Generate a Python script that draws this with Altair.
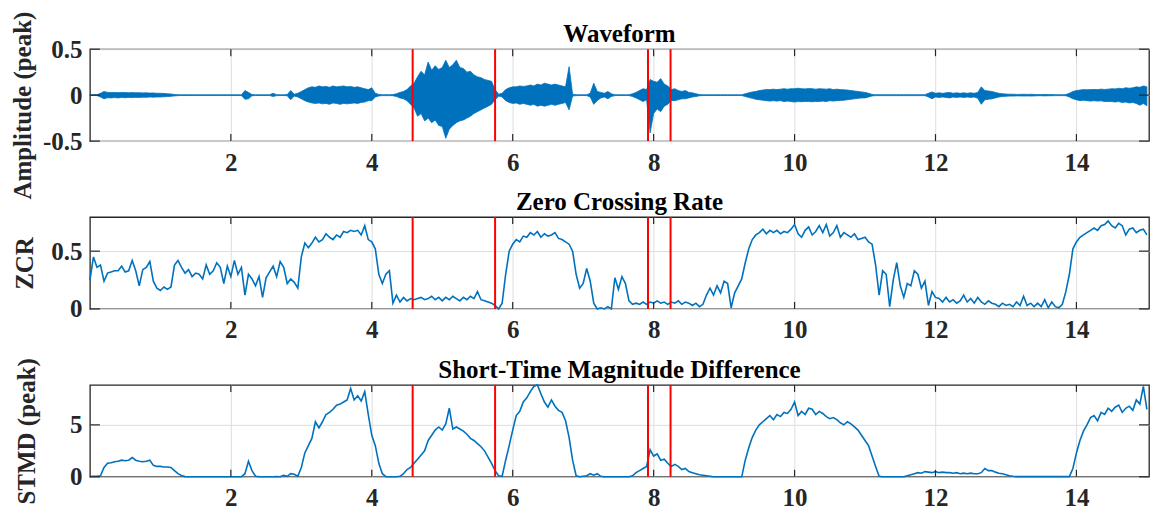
import altair as alt
import pandas as pd

# ---------------- data ----------------
N = 301
times = [round(i * 0.05, 2) for i in range(N)]  # sample grid, seconds

wave_up = [
    0.004, 0.004, 0.004, 0.02, 0.04, 0.03, 0.028, 0.03, 0.027, 0.03, 0.028, 0.026, 0.028, 0.025, 0.027, 0.024, 0.025, 0.022, 0.024, 0.02,
    0.02, 0.018, 0.015, 0.012, 0.008, 0.005, 0.004, 0.004, 0.004, 0.004, 0.004, 0.004, 0.004, 0.004, 0.004, 0.004, 0.004, 0.004, 0.004, 0.004,
    0.004, 0.004, 0.004, 0.004, 0.05, 0.03, 0.006, 0.004, 0.004, 0.004, 0.004, 0.004, 0.02, 0.005, 0.004, 0.004, 0.006, 0.05, 0.01, 0.02,
    0.04, 0.06, 0.08, 0.09, 0.085, 0.1, 0.09, 0.095, 0.085, 0.1, 0.09, 0.095, 0.1, 0.09, 0.095, 0.085, 0.09, 0.08, 0.07, 0.06,
    0.08, 0.02, 0.008, 0.005, 0.005, 0.005, 0.006, 0.015, 0.03, 0.04, 0.06, 0.1, 0.13, 0.2, 0.26, 0.22, 0.36, 0.27, 0.32, 0.28,
    0.3, 0.38, 0.3, 0.33, 0.38, 0.3, 0.29, 0.25, 0.26, 0.22, 0.2, 0.19, 0.17, 0.16, 0.15, 0.06, 0.01, 0.02, 0.06, 0.08,
    0.09, 0.09, 0.1, 0.095, 0.1, 0.11, 0.1, 0.12, 0.11, 0.13, 0.12, 0.11, 0.12, 0.11, 0.1, 0.09, 0.31, 0.01, 0.005, 0.004,
    0.004, 0.004, 0.02, 0.13, 0.04, 0.03, 0.02, 0.04, 0.015, 0.005, 0.004, 0.004, 0.004, 0.004, 0.015, 0.03, 0.05, 0.07, 0.06, 0.17,
    0.15, 0.14, 0.18, 0.12, 0.1, 0.06, 0.07, 0.05, 0.04, 0.05, 0.03, 0.025, 0.015, 0.006, 0.004, 0.004, 0.004, 0.004, 0.004, 0.004,
    0.004, 0.004, 0.004, 0.004, 0.004, 0.004, 0.015, 0.025, 0.035, 0.04, 0.05, 0.055, 0.06, 0.06, 0.065, 0.06, 0.065, 0.07, 0.065, 0.07,
    0.07, 0.075, 0.07, 0.068, 0.072, 0.07, 0.065, 0.07, 0.068, 0.065, 0.07, 0.06, 0.065, 0.06, 0.058, 0.055, 0.05, 0.045, 0.04, 0.035,
    0.03, 0.02, 0.008, 0.005, 0.005, 0.005, 0.005, 0.005, 0.005, 0.005, 0.005, 0.005, 0.005, 0.005, 0.005, 0.005, 0.005, 0.005, 0.02, 0.035,
    0.02, 0.025, 0.02, 0.025, 0.03, 0.02, 0.025, 0.02, 0.025, 0.02, 0.025, 0.02, 0.03, 0.09, 0.05, 0.045, 0.04, 0.03, 0.02, 0.015,
    0.012, 0.01, 0.01, 0.008, 0.008, 0.01, 0.008, 0.01, 0.008, 0.006, 0.006, 0.008, 0.006, 0.006, 0.005, 0.005, 0.005, 0.006, 0.02, 0.04,
    0.05, 0.055, 0.06, 0.058, 0.06, 0.062, 0.06, 0.065, 0.062, 0.065, 0.07, 0.068, 0.075, 0.07, 0.08, 0.075, 0.08, 0.09, 0.085, 0.1,
    0.09,
]

wave_lo = [
    -0.004, -0.004, -0.004, -0.02, -0.04, -0.028, -0.03, -0.027, -0.03, -0.026, -0.028, -0.025, -0.027, -0.024, -0.026, -0.022, -0.024, -0.02, -0.022, -0.02,
    -0.02, -0.018, -0.015, -0.012, -0.008, -0.005, -0.004, -0.004, -0.004, -0.004, -0.004, -0.004, -0.004, -0.004, -0.004, -0.004, -0.004, -0.004, -0.004, -0.004,
    -0.004, -0.004, -0.004, -0.004, -0.045, -0.04, -0.006, -0.004, -0.004, -0.004, -0.004, -0.004, -0.015, -0.005, -0.004, -0.004, -0.006, -0.05, -0.01, -0.02,
    -0.04, -0.06, -0.075, -0.085, -0.09, -0.085, -0.095, -0.09, -0.1, -0.085, -0.09, -0.1, -0.09, -0.095, -0.09, -0.085, -0.09, -0.08, -0.075, -0.06,
    -0.06, -0.02, -0.008, -0.005, -0.005, -0.005, -0.006, -0.015, -0.03, -0.04, -0.06, -0.1, -0.14, -0.23, -0.2, -0.28, -0.25, -0.3, -0.27, -0.33,
    -0.34, -0.47, -0.37, -0.33, -0.3, -0.28, -0.27, -0.25, -0.23, -0.2, -0.18, -0.16, -0.14, -0.12, -0.1, -0.05, -0.01, -0.02, -0.06, -0.08,
    -0.09, -0.085, -0.1, -0.09, -0.1, -0.11, -0.1, -0.12, -0.11, -0.12, -0.11, -0.1, -0.11, -0.1, -0.09, -0.08, -0.16, -0.01, -0.005, -0.004,
    -0.004, -0.004, -0.02, -0.1, -0.06, -0.03, -0.02, -0.04, -0.015, -0.005, -0.004, -0.004, -0.004, -0.004, -0.015, -0.03, -0.05, -0.07, -0.05, -0.41,
    -0.2, -0.15, -0.18, -0.12, -0.1, -0.06, -0.06, -0.05, -0.04, -0.04, -0.03, -0.02, -0.015, -0.006, -0.004, -0.004, -0.004, -0.004, -0.004, -0.004,
    -0.004, -0.004, -0.004, -0.004, -0.004, -0.004, -0.015, -0.025, -0.035, -0.045, -0.05, -0.055, -0.06, -0.065, -0.06, -0.065, -0.06, -0.07, -0.065, -0.07,
    -0.075, -0.07, -0.072, -0.068, -0.07, -0.072, -0.068, -0.07, -0.065, -0.07, -0.06, -0.065, -0.06, -0.058, -0.055, -0.05, -0.045, -0.04, -0.035, -0.03,
    -0.03, -0.02, -0.008, -0.005, -0.005, -0.005, -0.005, -0.005, -0.005, -0.005, -0.005, -0.005, -0.005, -0.005, -0.005, -0.005, -0.005, -0.005, -0.02, -0.04,
    -0.02, -0.025, -0.02, -0.025, -0.03, -0.02, -0.025, -0.02, -0.025, -0.02, -0.025, -0.02, -0.035, -0.1, -0.05, -0.045, -0.04, -0.03, -0.02, -0.015,
    -0.012, -0.01, -0.01, -0.008, -0.008, -0.01, -0.008, -0.01, -0.008, -0.006, -0.006, -0.008, -0.006, -0.006, -0.005, -0.005, -0.005, -0.006, -0.02, -0.04,
    -0.05, -0.06, -0.055, -0.06, -0.065, -0.06, -0.065, -0.062, -0.07, -0.068, -0.07, -0.075, -0.07, -0.08, -0.075, -0.085, -0.08, -0.09, -0.11, -0.09,
    -0.115,
]

zcr = [
    0.25, 0.45, 0.36, 0.38, 0.24, 0.31, 0.32, 0.33, 0.33, 0.37, 0.32, 0.33, 0.42, 0.33, 0.20, 0.34, 0.36, 0.41, 0.24, 0.18,
    0.16, 0.19, 0.17, 0.19, 0.38, 0.42, 0.36, 0.31, 0.34, 0.28, 0.31, 0.30, 0.26, 0.38, 0.30, 0.33, 0.40, 0.36, 0.22, 0.37,
    0.28, 0.42, 0.30, 0.36, 0.12, 0.30, 0.26, 0.20, 0.28, 0.10, 0.27, 0.32, 0.37, 0.28, 0.41, 0.36, 0.22, 0.26, 0.23, 0.18,
    0.45, 0.57, 0.53, 0.57, 0.62, 0.58, 0.60, 0.65, 0.62, 0.60, 0.64, 0.62, 0.67, 0.66, 0.68, 0.67, 0.68, 0.64, 0.72, 0.60,
    0.58, 0.52, 0.30, 0.22, 0.30, 0.33, 0.05, 0.12, 0.06, 0.10, 0.07, 0.09, 0.08, 0.09, 0.10, 0.08, 0.09, 0.11, 0.08, 0.10,
    0.07, 0.10, 0.08, 0.11, 0.09, 0.07, 0.10, 0.08, 0.11, 0.09, 0.15, 0.08, 0.07, 0.06, 0.05, 0.03, 0.00, 0.05, 0.30, 0.50,
    0.56, 0.60, 0.58, 0.63, 0.62, 0.66, 0.64, 0.67, 0.62, 0.65, 0.63, 0.64, 0.66, 0.61, 0.60, 0.58, 0.56, 0.50, 0.30, 0.18,
    0.22, 0.35, 0.24, 0.05, 0.00, 0.01, 0.00, 0.02, 0.00, 0.27, 0.17, 0.28, 0.22, 0.07, 0.04, 0.05, 0.04, 0.06, 0.04, 0.06,
    0.05, 0.07, 0.05, 0.06, 0.04, 0.06, 0.05, 0.07, 0.04, 0.06, 0.05, 0.03, 0.05, 0.02, 0.04, 0.12, 0.18, 0.12, 0.20, 0.14,
    0.24, 0.22, 0.01, 0.14, 0.20, 0.26, 0.40, 0.52, 0.60, 0.64, 0.66, 0.69, 0.65, 0.68, 0.66, 0.68, 0.65, 0.67, 0.66, 0.69,
    0.73, 0.65, 0.62, 0.68, 0.71, 0.64, 0.67, 0.72, 0.66, 0.73, 0.63, 0.66, 0.72, 0.62, 0.66, 0.64, 0.62, 0.65, 0.60, 0.61,
    0.62, 0.58, 0.56, 0.38, 0.12, 0.33, 0.30, 0.02, 0.25, 0.40, 0.20, 0.10, 0.22, 0.20, 0.33, 0.30, 0.18, 0.24, 0.03, 0.15,
    0.10, 0.09, 0.06, 0.10, 0.06, 0.08, 0.05, 0.07, 0.12, 0.06, 0.09, 0.05, 0.10, 0.06, 0.04, 0.07, 0.05, 0.04, 0.02, 0.05,
    0.03, 0.04, 0.02, 0.06, 0.03, 0.11, 0.03, 0.05, 0.02, 0.05, 0.02, 0.08, 0.01, 0.06, 0.02, 0.01, 0.04, 0.15, 0.30, 0.52,
    0.58, 0.62, 0.64, 0.66, 0.68, 0.70, 0.68, 0.72, 0.73, 0.76, 0.72, 0.70, 0.74, 0.72, 0.64, 0.69, 0.70, 0.66, 0.68, 0.69,
    0.64,
]

stmd = [
    0.05, 0.05, 0.05, 0.10, 0.90, 1.30, 1.35, 1.45, 1.50, 1.60, 1.55, 1.60, 1.85, 1.60, 1.50, 1.45, 1.50, 1.60, 1.10, 1.00,
    1.00, 0.95, 0.95, 0.90, 0.60, 0.30, 0.12, 0.02, 0.00, 0.00, 0.00, 0.00, 0.00, 0.00, 0.00, 0.00, 0.00, 0.00, 0.00, 0.00,
    0.00, 0.00, 0.00, 0.00, 0.30, 1.50, 0.60, 0.05, 0.02, 0.00, 0.00, 0.00, 0.00, 0.02, 0.00, 0.15, 0.05, 0.30, 0.25, 0.05,
    0.90, 2.30, 3.00, 3.70, 5.30, 4.70, 5.30, 6.00, 6.20, 6.50, 6.90, 7.00, 7.20, 7.40, 8.50, 7.40, 7.80, 7.30, 8.20, 6.00,
    4.00, 3.00, 1.30, 0.30, 0.02, 0.00, 0.00, 0.00, 0.05, 0.30, 0.70, 0.90, 1.30, 1.70, 2.10, 2.50, 3.50, 4.00, 4.50, 4.80,
    4.50, 5.10, 6.60, 4.60, 4.80, 4.60, 4.40, 4.10, 3.70, 3.50, 3.20, 2.90, 2.50, 1.90, 1.30, 0.60, 0.10, 0.05, 1.60, 3.00,
    4.50, 5.90, 6.30, 7.20, 7.60, 8.20, 8.70, 8.85, 8.00, 7.20, 6.70, 7.40, 6.80, 6.40, 6.20, 5.40, 3.80, 1.60, 0.10, 0.00,
    0.05, 0.10, 0.30, 0.15, 0.30, 0.05, 0.00, 0.00, 0.00, 0.00, 0.00, 0.00, 0.00, 0.00, 0.10, 0.40, 0.60, 0.80, 1.00, 2.60,
    2.00, 2.20, 1.60, 1.70, 1.30, 1.00, 1.20, 1.00, 0.70, 0.80, 0.50, 0.40, 0.30, 0.20, 0.15, 0.10, 0.05, 0.00, 0.00, 0.00,
    0.00, 0.00, 0.00, 0.00, 0.00, 0.00, 1.60, 2.80, 3.80, 4.50, 5.00, 5.30, 5.60, 5.90, 5.50, 6.00, 5.80, 6.20, 6.10, 6.50,
    7.20, 5.90, 6.30, 6.00, 6.60, 6.50, 6.00, 6.30, 6.10, 5.80, 5.60, 5.70, 5.50, 5.20, 5.00, 5.30, 5.10, 4.80, 4.50, 4.00,
    3.50, 3.00, 2.00, 1.00, 0.05, 0.00, 0.00, 0.00, 0.00, 0.00, 0.00, 0.00, 0.10, 0.20, 0.30, 0.40, 0.35, 0.50, 0.45, 0.40,
    0.50, 0.40, 0.45, 0.40, 0.40, 0.35, 0.40, 0.30, 0.35, 0.30, 0.35, 0.30, 0.30, 0.40, 0.80, 0.60, 0.60, 0.45, 0.35, 0.30,
    0.20, 0.10, 0.05, 0.02, 0.02, 0.02, 0.02, 0.02, 0.02, 0.02, 0.02, 0.02, 0.02, 0.02, 0.02, 0.02, 0.02, 0.02, 0.02, 0.80,
    2.30, 3.50, 4.40, 5.00, 5.70, 5.90, 5.40, 6.20, 6.00, 6.60, 6.30, 6.70, 6.90, 6.20, 6.60, 6.80, 6.40, 7.40, 7.00, 8.70,
    6.50,
]

boundaries = [4.58, 5.75, 7.92, 8.24]
x_ticks = [2, 4, 6, 8, 10, 12, 14]
wave_ticks = [-0.5, 0, 0.5]
zcr_ticks = [0, 0.5]
stmd_ticks = [0, 5]

titles = ["Waveform", "Zero Crossing Rate", "Short-Time Magnitude Difference"]
ylabels = ["Amplitude (peak)", "ZCR", "STMD (peak)"]

# ---------------- styling ----------------
W, H = 1060, 92
FONT = "'Liberation Serif', 'Times New Roman', 'DejaVu Serif', serif"
FS = 25
BLUE = "#0072BD"
RED = "#FF0000"
AX = "#262626"

wave_df = pd.DataFrame({"t": times, "lo": wave_lo, "up": wave_up})
zcr_df = pd.DataFrame({"t": times, "v": zcr})
stmd_df = pd.DataFrame({"t": times, "v": stmd})
bound_df = pd.DataFrame({"t": boundaries})
xt_df = pd.DataFrame({"t": x_ticks})

x_scale = alt.Scale(domain=[0, 15.03], nice=False, zero=False)
x_axis = alt.Axis(values=x_ticks, title=None, grid=True, labelExpr="'' + datum.value",
                  labelPadding=9, labelFlush=False)


def xenc():
    return alt.X("t:Q", scale=x_scale, axis=x_axis)


def panel(series_chart_fn, field, ydom, yticks, ytitle, ttl, tpad, ty=None):
    axis_kw = dict(values=yticks, title=ytitle, grid=True, labelExpr="'' + datum.value",
                   labelPadding=8, titlePadding=tpad, labelFlush=False)
    if ty is not None:
        axis_kw["titleY"] = ty
    y_axis = alt.Axis(**axis_kw)
    y_scale = alt.Scale(domain=ydom, nice=False, zero=False)

    def yenc():
        return alt.Y(f"{field}:Q", scale=y_scale, axis=y_axis)

    yt_df = pd.DataFrame({field: yticks})
    series = series_chart_fn(xenc(), yenc())
    red = alt.Chart(bound_df).mark_rule(color=RED, strokeWidth=2).encode(x=xenc())
    xt_top = alt.Chart(xt_df).mark_rule(color=AX, strokeWidth=1.2).encode(
        x=xenc(), y=alt.value(0), y2=alt.value(7))
    xt_bot = alt.Chart(xt_df).mark_rule(color=AX, strokeWidth=1.2).encode(
        x=xenc(), y=alt.value(H - 7), y2=alt.value(H))
    yt_l = alt.Chart(yt_df).mark_rule(color=AX, strokeWidth=1.2).encode(
        y=yenc(), x=alt.value(0), x2=alt.value(10))
    yt_r = alt.Chart(yt_df).mark_rule(color=AX, strokeWidth=1.2).encode(
        y=yenc(), x=alt.value(W - 10), x2=alt.value(W))
    ttl_layer = alt.Chart(pd.DataFrame({"title": [ttl]})).mark_text(
        font=FONT, fontSize=FS, fontWeight="bold", color="#000000",
        align="center", baseline="alphabetic",
    ).encode(text="title:N", x=alt.value(W / 2), y=alt.value(-7))
    return alt.layer(series, red, xt_top, xt_bot, yt_l, yt_r, ttl_layer).properties(
        width=W, height=H,
    )


p1 = panel(lambda x, y: alt.Chart(wave_df).mark_area(color=BLUE, stroke=BLUE, strokeWidth=0.8, opacity=1)
           .encode(x=x, y=y, y2="up:Q"),
           "lo", [-0.5, 0.5], wave_ticks, ylabels[0], titles[0], 7, 56)
p2 = panel(lambda x, y: alt.Chart(zcr_df).mark_line(color=BLUE, strokeWidth=1.6).encode(x=x, y=y),
           "v", [0, 0.795], zcr_ticks, ylabels[1], titles[1], 13)
p3 = panel(lambda x, y: alt.Chart(stmd_df).mark_line(color=BLUE, strokeWidth=1.6).encode(x=x, y=y),
           "v", [0, 8.85], stmd_ticks, ylabels[2], titles[2], 30)

chart = alt.vconcat(p1, p2, p3, spacing=76, bounds="flush").configure_view(
    stroke=AX, strokeWidth=1.3
).configure_axis(
    domain=False, ticks=False,
    labelFont=FONT, labelFontSize=FS, labelFontWeight="bold", labelColor=AX,
    titleFont=FONT, titleFontSize=FS, titleFontWeight="bold", titleColor=AX,
    gridColor="#dedede", gridWidth=1, gridOpacity=1,
).properties(
    padding={"left": 9, "top": 10, "right": 0, "bottom": 0},
    background="white",
)

chart.save("out.html", embed_options={"renderer": "svg", "actions": False})
